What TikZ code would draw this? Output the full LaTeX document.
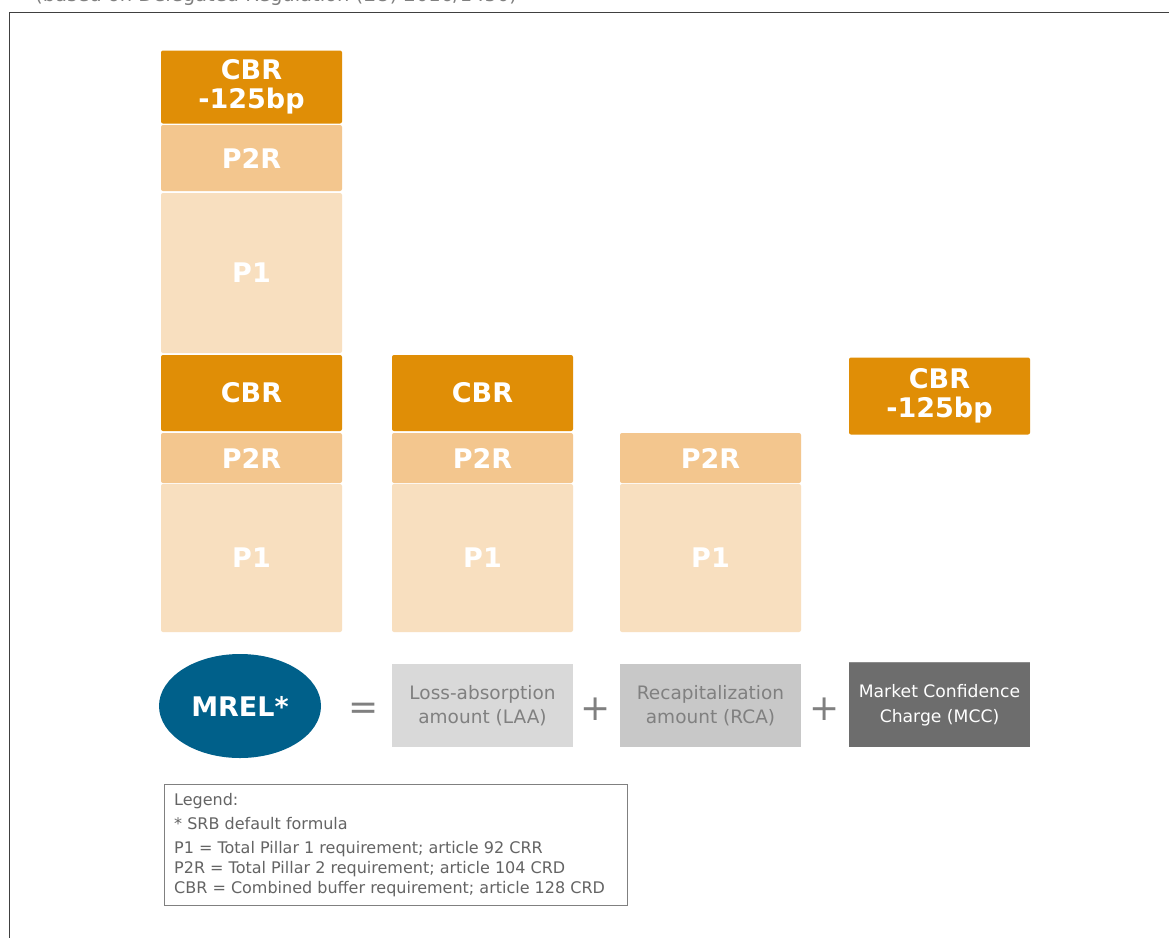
\documentclass[tikz,border=0pt]{standalone}
\usepackage{fontspec}
\setmainfont{DejaVu Sans}
\usetikzlibrary{shapes.geometric}
\definecolor{cbrc}{RGB}{224,142,6}
\definecolor{ptwoc}{RGB}{243,198,142}
\definecolor{ponec}{RGB}{248,223,191}
\definecolor{mrelc}{RGB}{0,96,138}
\definecolor{laac}{RGB}{217,217,217}
\definecolor{rcac}{RGB}{200,200,200}
\definecolor{mccc}{RGB}{109,109,109}
\definecolor{graytxt}{RGB}{128,128,128}
\definecolor{legtxt}{RGB}{100,100,100}
\tikzset{
  blk/.style={rounded corners=2pt, inner sep=0pt, minimum width=181pt, text=white,
    align=center, font=\fontsize{27}{29}\selectfont\bfseries},
  cbrbox/.style={blk, fill=cbrc},
  ptwobox/.style={blk, fill=ptwoc},
  ponebox/.style={blk, fill=ponec},
  termbox/.style={inner sep=0pt, minimum width=181pt, minimum height=83pt, align=center,
    font=\fontsize{18.5}{24.5}\selectfont},
  optxt/.style={text=graytxt, font=\fontsize{36}{36}\selectfont},
  legline/.style={anchor=base west, inner sep=0pt, text=legtxt, font=\fontsize{16}{20}\selectfont},
}
\begin{document}
\begin{tikzpicture}[x=1pt,y=-1pt]
\useasboundingbox (0,0) rectangle (1169,937);
\fill[white] (0,0) rectangle (1169,937);
% cut-off title
\node[anchor=base west, inner sep=0pt, text=graytxt, font=\fontsize{19.5}{22}\selectfont] (title) at (35,1) {(based on Delegated Regulation (EU) 2016/1450)};
% frame
\draw[line width=1.2pt, draw=black!75] (9.5,1000) -- (9.5,12.5) -- (1200,12.5);
% column 1, upper stack
\node[cbrbox, minimum height=73pt] (cbrA) at (251.5,87) {CBR\\-125bp};
\node[ptwobox, minimum height=66pt] (ptwoA) at (251.5,158) {P2R};
\node[ponebox, minimum height=160pt] (poneA) at (251.5,273) {P1};
% column 1, lower stack
\node[cbrbox, minimum height=76pt] (cbrB) at (251.5,393) {CBR};
\node[ptwobox, minimum height=50pt] (ptwoB) at (251.5,458) {P2R};
\node[ponebox, minimum height=148pt] (poneB) at (251.5,558) {P1};
% column 2
\node[cbrbox, minimum height=76pt] (cbrC) at (482.5,393) {CBR};
\node[ptwobox, minimum height=50pt] (ptwoC) at (482.5,458) {P2R};
\node[ponebox, minimum height=148pt] (poneC) at (482.5,558) {P1};
% column 3
\node[ptwobox, minimum height=50pt] (ptwoD) at (710.5,458) {P2R};
\node[ponebox, minimum height=148pt] (poneD) at (710.5,558) {P1};
% column 4
\node[cbrbox, minimum height=77pt] (cbrE) at (939.5,396) {CBR\\-125bp};
% formula row
\node[ellipse, fill=mrelc, minimum width=162pt, minimum height=104pt, inner sep=0pt,
  text=white, font=\fontsize{27}{29}\selectfont\bfseries] (mrel) at (240,706) {MREL*};
\node[optxt] (eq) at (364,711) {=};
\node[termbox, fill=laac, text=graytxt] (laa) at (482.5,705.5) {Loss-absorption\\amount (LAA)};
\node[optxt] (plusA) at (596,709) {+};
\node[termbox, fill=rcac, text=graytxt] (rca) at (710.5,705.5) {Recapitalization\\amount (RCA)};
\node[optxt] (plusB) at (825,709) {+};
\node[termbox, fill=mccc, text=white, minimum height=84pt, font=\fontsize{17.2}{24.5}\selectfont] (mcc) at (939.5,705) {Market Confidence\\Charge (MCC)};
\draw[black!45, line width=1.2pt] (mcc.north west) -- (mcc.north east);
% legend
\draw[draw=black!50, line width=0.9pt] (164.5,784.5) rectangle (627.5,905.5);
\node[legline] (legA) at (174,805) {Legend:};
\node[legline] (legB) at (174,829) {* SRB default formula};
\node[legline] (legC) at (174,853) {P1 = Total Pillar 1 requirement; article 92 CRR};
\node[legline] (legD) at (174,873) {P2R = Total Pillar 2 requirement; article 104 CRD};
\node[legline] (legE) at (174,893) {CBR = Combined buffer requirement; article 128 CRD};
\end{tikzpicture}
\end{document}
